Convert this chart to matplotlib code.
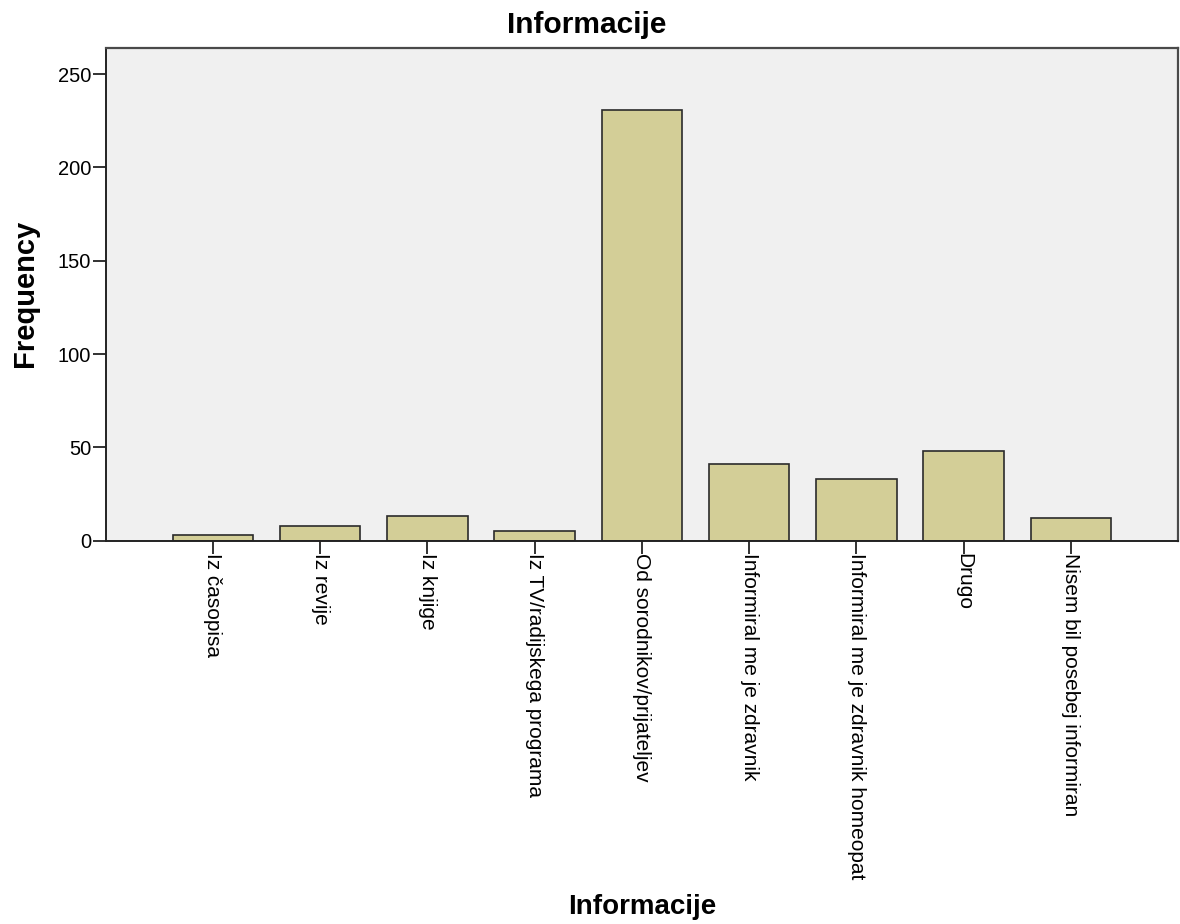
import matplotlib
matplotlib.use("Agg")
import matplotlib.pyplot as plt

categories = [
    "Iz časopisa",
    "Iz revije",
    "Iz knjige",
    "Iz TV/radijskega programa",
    "Od sorodnikov/prijateljev",
    "Informiral me je zdravnik",
    "Informiral me je zdravnik homeopat",
    "Drugo",
    "Nisem bil posebej informiran",
]
frequencies = [3, 8, 13, 5, 231, 41, 33, 48, 12]
y_ticks = [0, 50, 100, 150, 200, 250]

plt.rcParams["font.family"] = ["Liberation Sans", "DejaVu Sans"]

fig = plt.figure(figsize=(11.8, 9.24), dpi=100)
ax = fig.add_axes([0.0896, 0.4148, 0.9087, 0.5329])

x = list(range(len(categories)))
ax.bar(x, frequencies, width=0.75, color="#D3CE97", edgecolor="#2b2b2b",
       linewidth=1.2, zorder=2)

ax.set_facecolor("#F0F0F0")
ax.set_xlim(-1, 9)
ax.set_ylim(0, 263.8)
ax.set_yticks(y_ticks)
ax.set_xticks(x)
ax.set_xticklabels(categories, rotation=270, ha="center", va="top")

ax.tick_params(axis="y", length=9.5, width=1.3, pad=1, labelsize=14.5,
               color="#222222")
ax.tick_params(axis="x", length=9, width=1.3, pad=0, labelsize=15,
               color="#222222")

for side in ["left", "bottom"]:
    ax.spines[side].set_color("#222222")
    ax.spines[side].set_linewidth(1.4)
for side in ["top", "right"]:
    ax.spines[side].set_color("#4a4a4a")
    ax.spines[side].set_linewidth(1.6)

ax.set_ylabel("Frequency", fontsize=21, fontweight="bold")
ax.yaxis.set_label_coords(-0.0753, 0.502)
ax.yaxis.label.set_va("center")

ax.set_xlabel("Informacije", fontsize=20, fontweight="bold")
ax.xaxis.set_label_coords(0.5, -0.744)
ax.xaxis.label.set_va("center")

fig.text(0.497, 0.973, "Informacije", fontsize=21.5, fontweight="bold",
         ha="center", va="center")

fig.savefig("out.png", dpi=100)
